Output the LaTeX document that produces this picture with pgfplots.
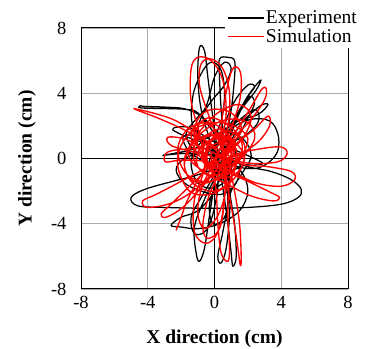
\documentclass[border=0pt]{standalone}
\usepackage{pgfplots}
\pgfplotsset{compat=1.18}
\usepackage{fontspec}
\setmainfont{Liberation Serif}
\newfontfamily\tnr{Liberation Serif}
\begin{document}
\begin{tikzpicture}
\begin{axis}[
  scale only axis, width=267pt, height=261pt,
  xmin=-8, xmax=8, ymin=-8, ymax=8,
  xtick={-8,-4,0,4,8}, ytick={-8,-4,0,4,8},
  /pgf/number format/assume math mode=true,
  ticklabel style={font=\tnr\fontsize{18.5}{21}\selectfont},
  major tick length=0pt,
  xticklabel style={yshift=-4pt},
  yticklabel style={xshift=-11pt},
  grid=major, grid style={gray!65, line width=0.8pt},
  axis line style={black, line width=1pt},
  xlabel={\textbf{X direction (cm)}}, ylabel={\textbf{Y direction (cm)}},
  label style={font=\tnr\fontsize{19.5}{22}\selectfont},
  xlabel style={at={(axis description cs:0.5,-0.192)}, anchor=center},
  ylabel style={at={(axis description cs:-0.2022,0.5)}, anchor=center, rotate=0},
  legend style={at={(axis description cs:1.049,1.082)}, anchor=north east,
    draw=none, fill=white, font=\tnr\fontsize{19.5}{22}\selectfont, row sep=1.5pt,
    inner sep=3pt, nodes={inner sep=1pt}},
  legend cell align=left,
  legend image code/.code={\draw[#1] (0pt,0pt) -- (36pt,0pt);},
]
\draw[black, line width=1pt] (axis cs:0,-8) -- (axis cs:0,8);
\draw[black, line width=1pt] (axis cs:-8,0) -- (axis cs:8,0);
% Experiment
\addplot[black, line width=1.25pt, smooth, tension=0.6] coordinates {
(0,0) (-0.3,1.2) (-0.8,3.0) (-1.0,5.0) (-0.9,6.8) (-0.6,6.6) (-0.4,5.0) (-0.1,2.5) (0.2,0.3)
(0.5,-1.8) (0.8,-4.0) (1.0,-5.8) (1.1,-6.6) (1.3,-6.0) (1.2,-4.0) (0.9,-2.0) (0.6,0.5)
(0.4,3.0) (0.3,5.0) (0.3,6.1) (0.8,6.2) (1.2,6.0) (1.2,5.0) (1.0,3.0) (0.6,1.0)
(0.0,-0.5) (-1.0,-1.0) (-2.5,-1.4) (-4.2,-1.9) (-5.0,-2.4) (-4.6,-2.9) (-3.0,-3.0)
(-0.5,-3.05) (2.0,-3.0) (4.0,-2.8) (5.0,-2.4) (5.2,-1.9) (4.6,-1.3) (3.4,-0.8) (2.0,-0.5)
(0.8,0.0) (-0.4,0.8) (-1.0,1.6) (-0.8,2.5) (-0.2,3.5) (0.6,4.5) (1.0,5.5) (0.6,5.9) (0.0,5.0)
(-0.5,3.2) (-1.2,2.3) (-1.7,1.5) (-1.2,0.5) (0.0,0.2) (1.2,1.0) (2.0,2.5) (2.4,3.4) (2.1,3.8)
(1.5,2.8) (0.8,1.0) (0.2,-0.8) (-0.6,-2.5) (-1.2,-4.2) (-1.1,-5.8) (-0.9,-6.3) (-0.6,-5.5)
(-0.3,-3.5) (0.0,-1.5) (0.3,0.5) (1.0,1.8) (2.2,2.4) (3.3,2.3) (3.8,1.5) (3.8,0.5) (3.3,-0.2)
(2.5,-0.6) (1.4,-0.5) (0.4,0.1) (-0.5,0.9) (-1.3,1.4) (-1.9,1.3) (-1.5,0.4) (-0.5,-0.3)
(0.5,-1.2) (0.8,-2.6) (0.5,-4.5) (0.2,-6.0) (0.4,-6.4) (0.7,-5.5) (0.9,-3.5) (0.9,-1.5)
(0.6,0.5) (-0.2,1.8) (-1.0,2.8) (-1.6,3.0) (-2.5,3.05) (-4.4,3.1) (-4.4,3.25) (-4.3,3.2)
(-3.0,3.15) (-1.8,3.05) (-0.8,2.6) (0.0,1.8) (0.8,1.0) (1.5,-0.2) (1.3,-1.5) (0.4,-2.2)
(-0.8,-2.0) (-1.8,-1.5) (-2.3,-0.7) (-1.8,0.0) (-0.7,0.3) (0.6,0.0) (1.6,-0.8) (2.0,-2.0)
(1.5,-3.2) (0.3,-4.0) (-1.0,-4.3) (-2.0,-4.2) (-2.6,-4.1) (-2.0,-3.6) (-1.0,-3.2) (0.0,-2.0)
(0.5,-0.5) (1.0,1.5) (1.8,3.5) (2.75,4.8) (2.5,4.2) (1.6,3.0) (0.8,1.6) (0.0,0.6) (-0.8,0.3)
(-2.0,0.3) (-3.05,0.2) (-2.5,0.3) (-1.2,0.6) (0.0,1.2) (1.2,2.2) (2.6,2.7) (3.2,3.3)
(2.7,3.2) (1.5,2.0) (0.7,0.4) (0.0,-1.0) (-0.8,-2.4) (-1.4,-3.6) (-1.2,-4.6) (-0.5,-4.4)
(0.0,-3.0) (0.2,-1.0) (-0.4,0.8) (-1.3,2.0) (-1.3,3.8) (-0.8,5.2) (-0.2,5.9) (0.4,5.4)
(0.6,3.8) (0.3,2.0) (-0.5,1.0) (-2.5,1.75) (-1.5,1.9) (0.0,1.0) (1.5,0.4) (2.9,-0.3)
(2.0,-0.35) (1.0,-0.8) (0.2,-1.5) (-0.3,-2.8) (-0.1,-4.0) (0.6,-3.6) (1.0,-2.0) (1.6,-1.0)
(2.2,0.2) (1.6,1.3) (0.4,1.6) (-0.8,1.0) (-1.4,-0.2) (-1.0,-1.5) (0.0,-1.8) (0.9,-1.0)
(1.0,0.4) (0.3,1.0) (1.2,2.5) (2.0,3.8) (2.4,4.4) (2.0,4.5) (1.2,3.5) (0.6,2.0) (1.0,2.0)
(2.4,3.0) (2.6,2.2) (1.5,1.2) (0.2,1.0) (-0.5,-0.8) (-0.2,0.2)
};
\addlegendentry{Experiment}
% Simulation
\addplot[red, line width=1.35pt, smooth, tension=0.6] coordinates {
(0.3,0.5) (-0.8,1.3) (-2.5,2.4) (-4.8,3.05) (-3.2,2.4) (-1.5,1.6) (-0.2,0.8)
(0.6,-0.5) (0.6,-2.5) (0.2,-4.5) (-0.5,-5.2) (-1.2,-4.5) (-1.2,-2.5) (-0.6,-0.5)
(-0.9,1.5) (-1.4,3.5) (-1.4,5.5) (-1.0,6.2) (-0.2,6.0) (0.5,4.8) (0.7,2.8) (0.5,0.8)
(1.5,-0.3) (3.2,-0.5) (4.6,-0.8) (4.8,-1.3) (4.0,-1.7) (2.5,-1.5) (1.0,-0.8)
(-0.5,-0.2) (-2.0,-0.1) (-2.95,-0.2) (-2.8,0.4) (-1.5,0.6) (0.0,0.7)
(1.2,1.6) (2.1,3.0) (2.8,4.2) (3.1,4.3) (3.0,3.6) (2.2,2.4) (1.0,1.0)
(0.3,-0.8) (-0.4,-2.5) (-0.7,-4.2) (-0.4,-4.9) (0.3,-4.3) (0.6,-2.5) (0.6,-0.5)
(0.4,1.5) (0.6,3.5) (1.0,5.3) (1.35,5.6) (1.6,5.0) (1.5,3.5) (0.9,1.6) (0.2,0.3)
(-0.6,-0.6) (-2.0,-1.4) (-3.5,-2.2) (-4.3,-2.6) (-4.0,-3.0) (-2.5,-2.7) (-1.0,-1.8) (0.0,-0.8)
(1.2,0.2) (2.8,0.6) (4.0,0.7) (4.35,0.3) (3.8,-0.2) (2.2,-0.3) (0.8,0.0)
(-0.6,0.6) (-1.8,1.2) (-2.8,1.3) (-2.6,0.8) (-1.3,0.4) (0.0,0.0)
(0.7,-1.5) (1.1,-3.5) (1.4,-5.5) (1.55,-6.55) (1.6,-6.0) (1.5,-4.0) (1.2,-2.0) (0.8,-0.2)
(0.2,1.2) (-0.4,2.8) (-0.9,4.5) (-0.8,5.8) (-0.2,6.1) (0.5,5.5) (0.9,4.0) (0.8,2.0) (0.3,0.5)
(-0.5,-0.7) (-1.5,-1.7) (-2.6,-2.8) (-3.2,-3.4) (-2.9,-3.6) (-1.9,-3.0) (-0.8,-1.8) (0.2,-0.6)
(1.2,0.8) (2.4,1.8) (3.2,2.6) (3.3,2.0) (2.6,1.0) (1.4,0.2)
(0.2,-0.2) (-0.7,-1.6) (-1.0,-3.3) (-0.6,-4.3) (0.2,-3.5) (0.7,-1.8) (0.6,0.0)
(0.0,1.8) (-0.9,2.2) (-1.4,1.5) (-1.1,0.4) (-0.2,-0.4) (0.9,-0.9) (2.0,-1.4) (3.4,-2.1)
(3.9,-2.4) (3.5,-2.6) (2.2,-2.3) (0.8,-1.6) (-0.5,-0.9) (-1.5,0.0) (-1.3,1.0) (0.0,1.4)
(1.2,1.0) (1.8,0.0) (1.2,-1.0) (0.0,-1.2) (-1.0,-0.5) (-0.9,0.6) (0.0,1.2) (0.9,0.8)
(1.3,-0.3) (0.9,-1.6) (0.8,-3.5) (0.9,-5.5) (0.8,-6.3) (0.4,-5.8) (0.2,-4.0) (0.1,-2.0)
(-0.2,0.3) (0.5,0.0) (1.0,1.0) (0.3,1.8) (-0.6,1.2) (-0.7,0.0) (0.0,-0.8) (0.9,-0.4)
(1.1,0.7) (0.4,1.5) (-0.4,0.9) (-0.5,-0.3) (0.2,-1.0) (1.4,-0.2) (2.4,1.2) (2.0,2.2)
(0.8,2.4) (-0.5,1.8) (-1.4,0.8) (-1.8,-0.5) (-1.2,-1.6) (0.0,-2.0) (1.0,-1.2) (0.6,0.2)
(0.0,0.0) (1.5,1.0) (2.2,2.5) (1.5,3.3) (0.2,2.8) (-1.0,1.5) (-1.8,0.0) (-1.5,-1.2)
(-0.5,-1.5) (0.5,-1.0) (1.5,0.0) (2.0,1.2) (1.2,2.0) (0.0,2.2) (-1.2,1.8) (-2.0,0.8)
(-2.2,-0.5) (-1.5,-2.0) (-0.3,-2.2) (0.8,-1.6) (1.6,-0.6) (1.8,0.8) (1.0,1.9) (-0.2,2.5)
(-1.0,2.0) (-1.0,0.8) (-0.3,-0.3) (0.8,-0.3) (1.2,0.8) (0.5,1.8) (-0.5,2.2) (-1.6,1.8)
(-2.2,0.6) (-1.8,-0.8) (-0.8,-1.4) (0.4,-1.2) (1.3,-0.4) (1.2,0.8) (0.3,1.3) (-0.6,0.8)
(-0.7,-0.2) (0.2,-0.6) (1.0,0.2) (0.7,1.1) (-0.2,1.5) (-1.1,1.0) (-1.2,-0.2) (-0.4,-1.0)
(0.6,-0.8) (1.0,0.3) (0.4,1.0) (-0.4,0.5) (-0.3,-0.4) (0.5,0.4) (1.6,1.7) (1.0,2.8)
(-0.2,3.0) (-1.0,2.4) (-1.2,1.2) (-0.6,0.2) (-0.3,0.9) (0.5,1.7) (1.5,1.3) (1.6,0.3)
(0.8,-0.5) (-0.2,-0.2) (-0.8,-1.0) (-1.6,-2.5) (-2.0,-3.6) (-2.3,-4.4)
};
\addlegendentry{Simulation}
\end{axis}
\pgfresetboundingbox
\useasboundingbox ([shift={(-81pt,-60pt)}]current axis.south west) rectangle ([shift={(18pt,28pt)}]current axis.north east);
\end{tikzpicture}
\end{document}
